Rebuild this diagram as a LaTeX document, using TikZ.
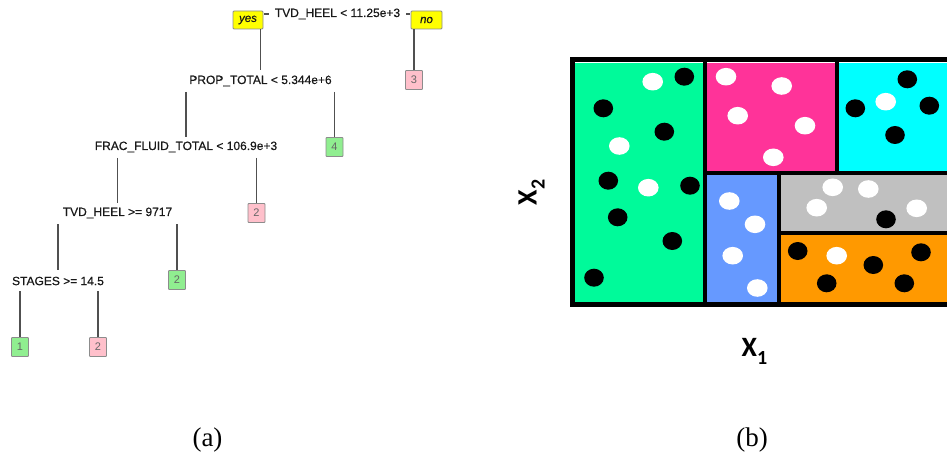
\documentclass[tikz,border=0pt]{standalone}
\usepackage{fontspec}
\setmainfont{Liberation Serif}
\setsansfont{Liberation Sans}
\newfontfamily\axisfont{Carlito}
\newfontfamily\treefont{Liberation Sans}[FakeBold=0.5]
\usetikzlibrary{calc}

\definecolor{edgegrey}{HTML}{505050}
\definecolor{boxline}{HTML}{8C8C8C}
\definecolor{leafgreen}{HTML}{90EE90}
\definecolor{leafpink}{HTML}{FFC0CB}
\definecolor{splityellow}{HTML}{FFFF00}
\definecolor{regA}{HTML}{00FA9A}
\definecolor{regB}{HTML}{FF3399}
\definecolor{regC}{HTML}{00FFFF}
\definecolor{regD}{HTML}{6699FF}
\definecolor{regE}{HTML}{C0C0C0}
\definecolor{regF}{HTML}{FF9900}

\tikzset{
  splitlabel/.style={font=\treefont\fontsize{12}{12}\selectfont, text=black!90, inner sep=0pt},
  leafbox/.style={draw=boxline, line width=0.8pt, rounded corners=0.8pt,
    minimum width=17pt, minimum height=19pt, inner sep=0pt,
    font=\sffamily\fontsize{11}{11}\selectfont, text=black!60},
  leafg/.style={leafbox, fill=leafgreen},
  leafp/.style={leafbox, fill=leafpink},
  answer/.style={draw=boxline, line width=0.8pt, fill=splityellow, rounded corners=1pt,
    minimum height=18pt, inner sep=0pt,
    font=\treefont\itshape\fontsize{11.5}{11.5}\selectfont, text=black!90},
  edge/.style={draw=edgegrey, line width=1.8pt},
  divider/.style={draw=black, line width=4.6pt},
  dotb/.style={fill=black},
  dotw/.style={fill=white},
  caption/.style={font=\fontsize{27}{27}\selectfont, inner sep=0pt}
}

\begin{document}
\begin{tikzpicture}[x=1pt, y=-1pt]
\useasboundingbox (0,0) rectangle (947,457);
\fill[white] (0,0) rectangle (947,457);

% ---------------- (a) decision tree ----------------
\node[splitlabel] (root)   at (337.5,14) {TVD\_HEEL < 11.25e+3};
\node[answer, minimum width=30pt] (yes) at (248,20) {yes};
\node[answer, minimum width=31pt] (no)  at (426.5,20) {no};
\node[leafp] (l3) at (414,80) {3};
\node[splitlabel] (prop)   at (260.5,81) {PROP\_TOTAL < 5.344e+6};
\node[leafg] (l4) at (334.5,147) {4};
\node[splitlabel] (frac)   at (186,147) {FRAC\_FLUID\_TOTAL < 106.9e+3};
\node[leafp] (l2a) at (256.5,213) {2};
\node[splitlabel] (tvd)    at (117.5,213) {TVD\_HEEL >= 9717};
\node[leafg] (l2b) at (177,280) {2};
\node[splitlabel] (stages) at (58,281) {STAGES >= 14.5};
\node[leafg] (l1)  at (20,347) {1};
\node[leafp] (l2c) at (98,347) {2};

% short ticks joining the answer boxes to the root test
\draw[edge, shorten <=1pt, shorten >=6pt] (yes.east |- root.center) -- (root.west);
\draw[edge, shorten <=6pt, shorten >=1pt] (root.east) -- (no.west |- root.center);

% branches
\draw[edge] (yes.south -| prop.center) -- ($(prop.center)+(0,-11)$);
\draw[edge] (no.south -| l3.center) -- (l3.north);
\draw[edge] ($(prop.center -| frac.center)+(0,11)$) -- ($(frac.center)+(0,-10)$);
\draw[edge] ($(prop.center -| l4.center)+(0,11)$) -- (l4.north);
\draw[edge] ($(frac.center -| tvd.center)+(0,11)$) -- ($(tvd.center)+(0,-10)$);
\draw[edge] ($(frac.center -| l2a.center)+(0,11)$) -- (l2a.north);
\draw[edge] ($(tvd.center -| stages.center)+(0,11)$) -- ($(stages.center)+(0,-11)$);
\draw[edge] ($(tvd.center -| l2b.center)+(0,11)$) -- (l2b.north);
\draw[edge] ($(stages.center -| l1.center)+(0,10)$) -- (l1.north);
\draw[edge] ($(stages.center -| l2c.center)+(0,10)$) -- (l2c.north);

% ---------------- (b) partition of the feature space ----------------
\begin{scope}
\clip (0,0) rectangle (947,457);
% regions
\fill[regA] (575,63)    rectangle (705,302);
\fill[regB] (705,63)    rectangle (837.3,173.3);
\fill[regC] (837.3,63)  rectangle (980,173.3);
\fill[regD] (705,173.3) rectangle (778.7,302);
\fill[regE] (778.7,173.3) rectangle (980,233);
\fill[regF] (778.7,233) rectangle (980,302);

% observations
\foreach \x/\y in {684.3/76.7, 603.3/108.3, 664.3/131.7, 608.3/180.7, 690/185.7,
                   617.7/217.3, 672.3/241, 594/277.7,
                   907.3/79.3, 855.3/108.3, 929.3/105.7, 895/135,
                   886/219.3,
                   797.7/251, 873.3/265, 921/252.3, 826.7/283.3, 904.3/283.3}
  \fill[dotb] (\x,\y) ellipse [x radius=9.8, y radius=9];
\foreach \x/\y in {652.7/81.7, 619.3/146, 648.3/187.7,
                   726/76.7, 781.7/86, 737.7/115.7, 805/125.7, 773.3/157.3,
                   885.7/101.7,
                   729.3/201, 755/224.3, 732.7/255.7, 757.3/288,
                   832.7/187.3, 868.3/189, 816.7/207.7, 916.7/208.3,
                   836.7/255.7}
  \fill[dotw] (\x,\y) ellipse [x radius=10.3, y radius=8.8];

% borders
\draw[divider, line width=5pt] (572.5,60) rectangle (990,304.5);
\draw[divider] (705,60) -- (705,304.5);
\draw[divider, line width=4pt] (837.3,60) -- (837.3,173.3);
\draw[divider, line width=4.4pt] (705,173.3) -- (990,173.3);
\draw[divider, line width=4pt] (778.7,173.3) -- (778.7,304.5);
\draw[divider] (778.7,233) -- (990,233);
\end{scope}

% axis labels
\node[anchor=base west, inner sep=0pt, font=\axisfont\bfseries\fontsize{28}{28}\selectfont]
  (xone) at (741.5,356.7) {X\raisebox{-8pt}{\fontsize{20}{20}\selectfont 1}};
\node[rotate=90, anchor=base west, inner sep=0pt, font=\axisfont\bfseries\fontsize{28}{28}\selectfont]
  (xtwo) at (536.7,205.5) {X\raisebox{-8pt}{\fontsize{20}{20}\selectfont 2}};

% captions
\node[caption] (capa) at (207.5,440) {(a)};
\node[caption] (capb) at (752,440) {(b)};
\end{tikzpicture}
\end{document}
